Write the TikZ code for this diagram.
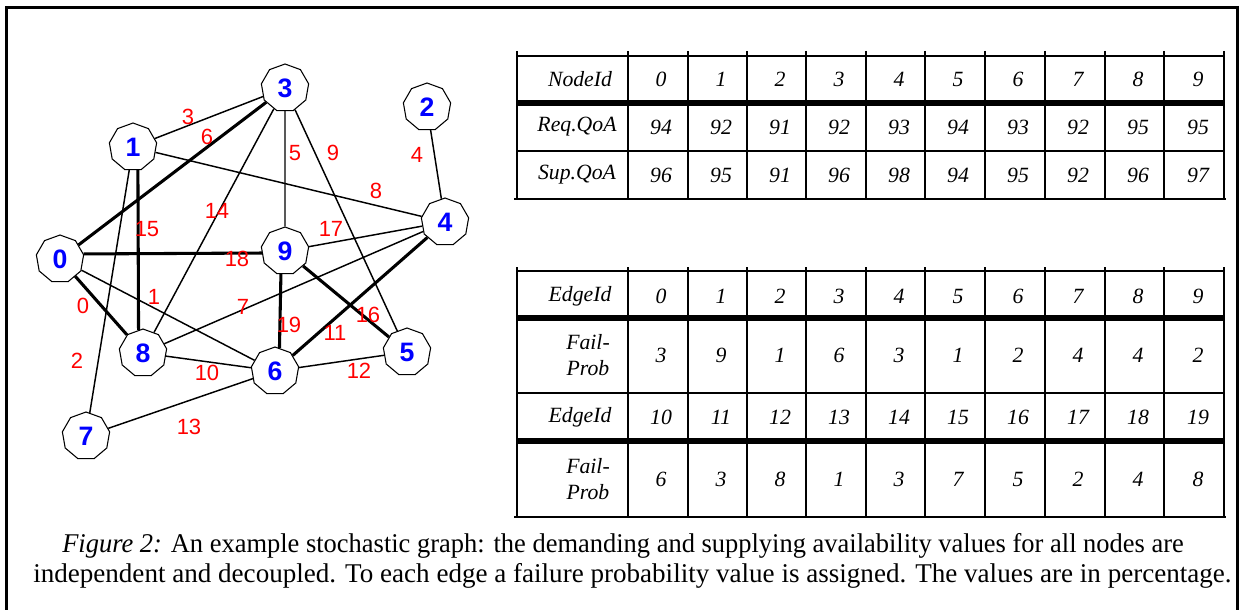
\documentclass[tikz,border=0pt]{standalone}
\usepackage{fontspec}
\setmainfont{Liberation Serif}
\newfontfamily\arialfont{Liberation Sans}
\usetikzlibrary{shapes.geometric}
\definecolor{nblue}{RGB}{0,0,255}
\definecolor{lred}{RGB}{255,0,0}
\begin{document}
\begin{tikzpicture}[x=0.75pt,y=-0.75pt,
  gnode/.style={regular polygon, regular polygon sides=9, draw, line width=0.8pt,
    minimum size=36pt, inner sep=0pt, fill=white, text=nblue,
    font=\arialfont\bfseries\fontsize{20}{20}\selectfont},
  thinedge/.style={line width=1.1pt},
  thickedge/.style={line width=2.3pt},
  elabel/.style={inner sep=0pt, text=lred, font=\arialfont\fontsize{16.5}{16.5}\selectfont},
  tline/.style={line width=2.2pt},
  tsep/.style={line width=4.6pt},
  ttext/.style={inner sep=0pt, align=center, font=\itshape\fontsize{16.3}{20}\selectfont},
  captext/.style={inner sep=0pt, anchor=base west, font=\fontsize{20.3}{22}\selectfont}
]
\useasboundingbox (0,0) rectangle (1240,610);
% frame
\draw[line width=2.4pt] (6.5,610) -- (6.5,7.5) -- (1237,7.5);
\draw[line width=1.6pt] (1237.5,6) -- (1237.5,610);

% ---------------- graph nodes
\node[gnode] (n0) at (60,259) {0};
\node[gnode] (n1) at (133,147) {1};
\node[gnode] (n2) at (427,107) {2};
\node[gnode] (n3) at (285,88) {3};
\node[gnode] (n4) at (445,222) {4};
\node[gnode] (n5) at (407,352) {5};
\node[gnode] (n6) at (275,371) {6};
\node[gnode] (n7) at (86,436) {7};
\node[gnode] (n8) at (143,353) {8};
\node[gnode] (n9) at (285,251) {9};

% ---------------- edges
\draw[thickedge] (n0) -- (n8);
\draw[thinedge] (n0) -- (n6);
\draw[thinedge] (n1) -- (n7);
\draw[thinedge] (n1) -- (n3);
\draw[thinedge] (n2) -- (n4);
\draw[thinedge] (n3) -- (n9);
\draw[thickedge] (n0) -- (n3);
\draw[thinedge] (n8) -- (n4);
\draw[thinedge] (n1) -- (n4);
\draw[thinedge] (n3) -- (n5);
\draw[thinedge] (n8) -- (n6);
\draw[thickedge] (n6) -- (n4);
\draw[thinedge] (n6) -- (n5);
\draw[thinedge] (n7) -- (n6);
\draw[thinedge] (n8) -- (n3);
\draw[thickedge] (n1.-78) -- (n8.101);
\draw[thickedge] (n9) -- (n5);
\draw[thinedge] (n9) -- (n4);
\draw[thickedge] (n0.12) -- (n9.185);
\draw[thickedge] (n9.-100) -- (n6.79);

% ---------------- edge labels
\node[elabel] (l0) at (83,306) {0};
\node[elabel] (l1) at (154,297) {1};
\node[elabel] (l2) at (77,361) {2};
\node[elabel] (l3) at (188,117) {3};
\node[elabel] (l4) at (417,155) {4};
\node[elabel] (l5) at (295,153) {5};
\node[elabel] (l6) at (207,137) {6};
\node[elabel] (l7) at (243,307) {7};
\node[elabel] (l8) at (376,191) {8};
\node[elabel] (l9) at (333,153) {9};
\node[elabel] (l10) at (207,373) {10};
\node[elabel] (l11) at (335,333) {11};
\node[elabel] (l12) at (359,371) {12};
\node[elabel] (l13) at (189,427) {13};
\node[elabel] (l14) at (217,211) {14};
\node[elabel] (l15) at (147,229) {15};
\node[elabel] (l16) at (368,315) {16};
\node[elabel] (l17) at (331,229) {17};
\node[elabel] (l18) at (237,259) {18};
\node[elabel] (l19) at (289,325) {19};

% ---------------- table 1
\foreach \x in {517,628,688,747,806,866,925,985,1045,1105,1164,1224}
  \draw[tline] (\x,51) -- (\x,199);
\draw[tline] (516,56) -- (1225,56);
\draw[tsep] (516,103) -- (1225,103);
\draw[tline] (516,151) -- (1225,151);
\draw[tline] (514,199) -- (1226,199);
\node[ttext] (h1) at (580,79) {NodeId};
\node[ttext] (r1) at (577,127) {Req.QoA};
\node[ttext] (s1) at (577,175) {Sup.QoA};
\foreach \c/\a/\b/\d [count=\i] in {661/0/94/96,721/1/92/95,780/2/91/91,839/3/92/96,899/4/93/98,958/5/94/94,1018/6/93/95,1078/7/92/92,1138/8/95/96,1198/9/95/97}{
  \node[ttext] (ta\i) at (\c,79) {\a};
  \node[ttext] (tb\i) at (\c,127) {\b};
  \node[ttext] (tc\i) at (\c,175) {\d};
}

% ---------------- table 2
\foreach \x in {517,628,688,747,806,866,925,985,1045,1105,1164,1224}
  \draw[tline] (\x,267) -- (\x,517);
\draw[tline] (516,271) -- (1225,271);
\draw[tsep] (516,318) -- (1225,318);
\draw[tline] (516,393) -- (1225,393);
\draw[tsep] (516,441) -- (1225,441);
\draw[tline] (514,517) -- (1226,517);
\node[ttext] (e1) at (580,296) {EdgeId};
\node[ttext] (f1) at (588,355) {Fail-\\Prob};
\node[ttext] (e2) at (580,417) {EdgeId};
\node[ttext] (f2) at (588,479) {Fail-\\Prob};
\foreach \c/\a/\b/\d/\e [count=\i] in {661/0/3/10/6,721/1/9/11/3,780/2/1/12/8,839/3/6/13/1,899/4/3/14/3,958/5/1/15/7,1018/6/2/16/5,1078/7/4/17/2,1138/8/4/18/4,1198/9/2/19/8}{
  \node[ttext] (ua\i) at (\c,296) {\a};
  \node[ttext] (ub\i) at (\c,355) {\b};
  \node[ttext] (uc\i) at (\c,417) {\d};
  \node[ttext] (ud\i) at (\c,479) {\e};
}

% ---------------- caption
\node[captext] (cap1) at (62,552) {\scalebox{0.978}[1]{\textit{Figure 2:} An example stochastic graph: the demanding and supplying availability values for all nodes are}};
\node[captext] (cap2) at (33,582) {independent and decoupled. To each edge a failure probability value is assigned. The values are in percentage.};
\end{tikzpicture}
\end{document}
